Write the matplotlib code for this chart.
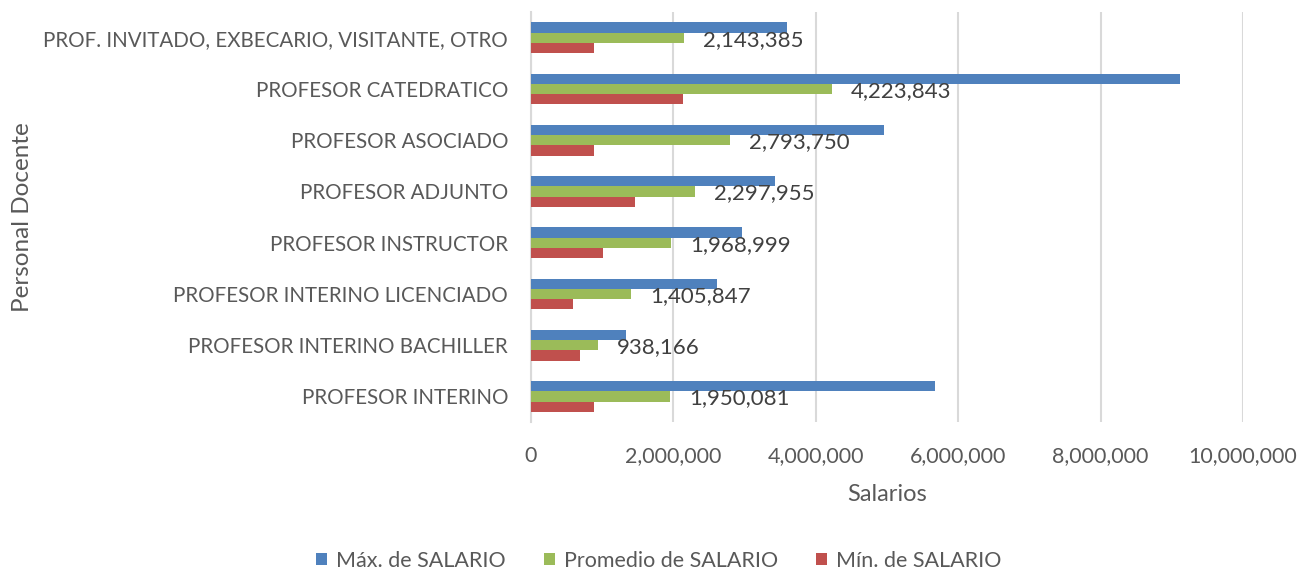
import matplotlib
matplotlib.use("Agg")
import matplotlib.pyplot as plt
import numpy as np
from matplotlib.ticker import FuncFormatter, MultipleLocator

categories = [
    "PROF. INVITADO, EXBECARIO, VISITANTE, OTRO",
    "PROFESOR CATEDRATICO",
    "PROFESOR ASOCIADO",
    "PROFESOR ADJUNTO",
    "PROFESOR INSTRUCTOR",
    "PROFESOR INTERINO LICENCIADO",
    "PROFESOR INTERINO BACHILLER",
    "PROFESOR INTERINO",
]
max_salario = [3590000, 9120000, 4960000, 3430000, 2970000, 2610000, 1330000, 5680000]
prom_salario = [2143385, 4223843, 2793750, 2297955, 1968999, 1405847, 938166, 1950081]
min_salario = [880000, 2140000, 880000, 1460000, 1010000, 590000, 690000, 880000]

series_names = ["Máx. de SALARIO", "Promedio de SALARIO", "Mín. de SALARIO"]
colors = ["#4F81BD", "#9BBB59", "#C0504D"]

plt.rcParams['font.family'] = ['Lato', 'DejaVu Sans']
text_color = "#595959"

fig = plt.figure(figsize=(13.02, 5.73), dpi=100)
ax = fig.add_axes([531/1302, 1 - 422/573, (1243-531)/1302, (422-12)/573])

y = np.arange(len(categories))
h = 0.2
series = [max_salario, prom_salario, min_salario]
offsets = [-h, 0, h]
bars = []
for vals, off, c, name in zip(series, offsets, colors, series_names):
    b = ax.barh(y + off, vals, height=h, color=c, label=name, zorder=3)
    bars.append(b)

for yi, v in zip(y, prom_salario):
    ax.annotate(f"{v:,}", xy=(v, yi + 0.04), xytext=(19, 0), textcoords="offset pixels",
                ha="left", va="center", fontsize=16, color="#404040", zorder=4)

ax.set_ylim(len(categories) - 0.5, -0.5)
ax.set_xlim(0, 10000000)
ax.xaxis.set_major_locator(MultipleLocator(2000000))
ax.xaxis.set_major_formatter(FuncFormatter(lambda x, p: f"{int(x):,}"))
ax.set_yticks(y)
ax.set_yticklabels(categories)
ax.grid(axis="x", color="#D9D9D9", linewidth=1.5, zorder=0)
for s in ["top", "right", "bottom"]:
    ax.spines[s].set_visible(False)
ax.spines["left"].set_color("#D9D9D9")
ax.spines["left"].set_linewidth(1.5)
ax.tick_params(axis="x", length=0, colors=text_color, labelsize=15.5, pad=17)
ax.tick_params(axis="y", length=0, colors=text_color, labelsize=14.8, pad=16.5)
for lbl in ax.get_xticklabels() + ax.get_yticklabels():
    lbl.set_color(text_color)

ax.set_xlabel("Salarios", fontsize=17, color=text_color, labelpad=13)
ax.set_ylabel("Personal Docente", fontsize=17.5, color=text_color)
ax.yaxis.set_label_coords((33 - 531) / (1243 - 531), 0.5)

leg = fig.legend(handles=bars, labels=series_names, loc="center", bbox_to_anchor=(0.506, 1 - 561/573),
                 ncol=3, frameon=False, fontsize=15.5, handlelength=0.5, handleheight=0.5,
                 columnspacing=1.8, handletextpad=0.4, labelcolor=text_color)

fig.savefig("out.png", dpi=100)
